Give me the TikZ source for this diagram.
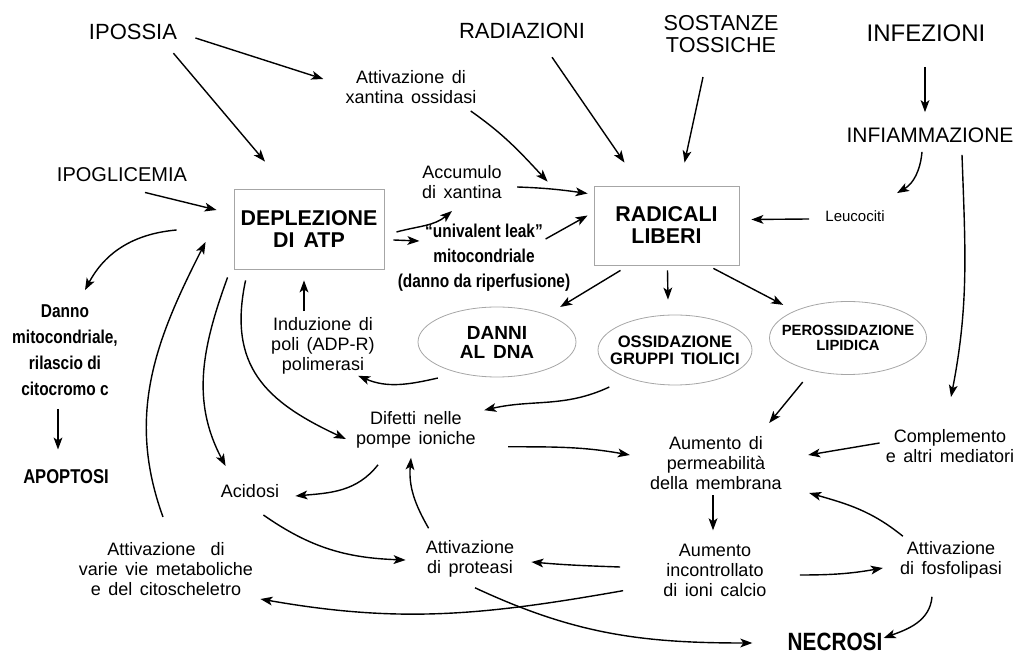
\documentclass[tikz,border=0pt]{standalone}
\usepackage{fontspec}
\setmainfont{Liberation Sans}[WordSpace=1.5]
\newfontfamily\narrowfont{Liberation Sans}[FakeStretch=0.83]
\usetikzlibrary{arrows.meta,shapes.geometric}

\begin{document}
\begin{tikzpicture}[x=0.5pt,y=0.5pt,
    >={Stealth[length=6pt,width=4.4pt,inset=1.5pt]},
    cause/.style={inner sep=0pt,align=center,font=\fontsize{11}{12}\selectfont},
    txt/.style={inner sep=0pt,align=center,font=\fontsize{9}{10}\selectfont},
    nbold/.style={inner sep=0pt,align=center,font=\narrowfont\bfseries\fontsize{9.3}{12.5}\selectfont},
    block/.style={draw=gray!70,line width=0.4pt,align=center,font=\bfseries\fontsize{10.7}{11}\selectfont,
      minimum width=74pt,minimum height=40pt},
    lesion/.style={ellipse,draw=gray!70,line width=0.4pt,inner sep=0pt,align=center,
      font=\bfseries\fontsize{9.5}{9.5}\selectfont}]
  \useasboundingbox (0,0) rectangle (1022,-656);
  \draw
    (133,-32) node[cause] (ipossia) {IPOSSIA}
    (522,-31) node[cause] (radiaz) {RADIAZIONI}
    (721,-34) node[cause,font=\fontsize{10.8}{11}\selectfont] (sostanze) {SOSTANZE\\TOSSICHE}
    (926,-33) node[cause,font=\fontsize{12}{13}\selectfont] (infez) {INFEZIONI}
    (930,-135) node[cause,font=\fontsize{10.5}{11}\selectfont] (infiam) {INFIAMMAZIONE}
    (122,-175) node[cause,font=\fontsize{10}{11}\selectfont] (ipoglic) {IPOGLICEMIA}
    (411,-87) node[txt] (xantox) {Attivazione di\\xantina ossidasi}
    (462,-182) node[txt] (accum) {Accumulo\\di xantina}
    (309,-229) node[block] (deplez) {DEPLEZIONE\\DI ATP}
    (666.5,-225.5) node[block,minimum width=72.5pt,minimum height=39.5pt] (radic) {RADICALI\\LIBERI}
    (855,-216) node[txt,font=\fontsize{7.5}{8}\selectfont] (leuc) {Leucociti}
    (484,-258) node[nbold] (leak) {“univalent leak”\\mitocondriale\\(danno da riperfusione)}
    (497,-342) node[lesion,minimum width=79pt,minimum height=35pt] (danni) {DANNI\\AL DNA}
    (675,-350) node[lesion,inner xsep=-5.8pt,minimum width=77pt,minimum height=35pt,
      font=\bfseries\fontsize{8.3}{8.7}\selectfont] (ossid) {OSSIDAZIONE\\GRUPPI TIOLICI}
    (848,-338) node[lesion,inner xsep=-6.1pt,minimum width=78.5pt,minimum height=36.5pt,
      font=\bfseries\fontsize{7.4}{7.7}\selectfont] (perox) {PEROSSIDAZIONE\\LIPIDICA}
    (65,-350) node[nbold,font=\narrowfont\bfseries\fontsize{9.3}{13}\selectfont] (dannomito) {Danno\\mitocondriale,\\rilascio di\\citocromo c}
    (66,-477) node[nbold,font=\narrowfont\bfseries\fontsize{10}{11}\selectfont] (apopt) {APOPTOSI}
    (323,-346) node[txt] (induz) {Induzione di\\poli (ADP-R)\\polimerasi}
    (416,-430) node[txt] (difetti) {Difetti nelle\\pompe ioniche}
    (250,-491) node[txt] (acidosi) {Acidosi}
    (166,-569) node[txt] (variev) {Attivazione \ di\\varie vie metaboliche\\e del citoscheletro}
    (470,-559) node[txt] (proteasi) {Attivazione\\di proteasi}
    (716,-463) node[txt] (permeab) {Aumento di\\permeabilità\\della membrana}
    (950,-446) node[txt] (complem) {Complemento\\e altri mediatori}
    (715,-570) node[txt] (calcio) {Aumento\\incontrollato\\di ioni calcio}
    (951,-560) node[txt] (fosfol) {Attivazione\\di fosfolipasi}
    (835,-642) node[nbold,font=\narrowfont\bfseries\fontsize{12.5}{13}\selectfont] (necrosi) {NECROSI};
  \begin{scope}[->,line width=0.7pt]
    \draw ([shift={(18,-6)}]ipossia.east) to ([shift={(-22,8)}]xantox.west);
    \draw ([shift={(-4,-13)}]ipossia.south east) to ([shift={(-44,27)}]deplez.north);
    \draw ([shift={(23,-10)}]ipoglic.south) to ([shift={(-17,19)}]deplez.west);
    \draw ([shift={(-6,-7)}]xantox.south east) to[out=-35,in=133] ([shift={(-46,4)}]radic.north west);
    \draw ([shift={(30,-18)}]radiaz.south) to ([shift={(-42,23)}]radic.north);
    \draw ([shift={(-18,-24)}]sostanze.south) to ([shift={(18,23)}]radic.north);
    \draw ([shift={(-1,-25)}]infez.south) to ([shift={(-5,15)}]infiam.north);
    \draw ([shift={(15,-5)}]accum.east) to[out=-2,in=172] ([shift={(-6,32)}]radic.west);
    \draw ([shift={(12,-3)}]deplez.east) to[out=15,in=220] ([shift={(-10,-12)}]accum.south);
    \draw ([shift={(9,-11)}]deplez.east) to ([shift={(22,17)}]leak.west);
    \draw ([shift={(-25,19)}]leak.east) to ([shift={(-6,10)}]radic.west);
    \draw ([shift={(-16,-3)}]leuc.west) to ([shift={(12,6)}]radic.east);
    \draw ([shift={(-8,-9)}]infiam.south) to[out=-95,in=30] ([shift={(12,17)}]leuc.north east);
    \draw ([shift={(32,-12)}]infiam.south) to[out=-88,in=79] ([shift={(1,32)}]complem.north);
    \draw ([shift={(-46,-5)}]radic.south) to ([shift={(7,10)}]danni.north east);
    \draw ([shift={(1,-5)}]radic.south) to ([shift={(-7,15)}]ossid.north);
    \draw ([shift={(-26,-3)}]radic.south east) to ([shift={(-9,7)}]perox.north west);
    \draw ([shift={(-57,-1)}]deplez.west) to[out=185,in=62] ([shift={(20,14)}]dannomito.north);
    \draw ([shift={(-7,-13)}]dannomito.south) to ([shift={(-8,20)}]apopt.north);
    \draw ([shift={(-19,6)}]induz.north) to ([shift={(-5,-11)}]deplez.south);
    \draw ([shift={(-3,-11)}]danni.south west) to[out=193,in=-23] ([shift={(-17,-1)}]induz.south east);
    \draw ([shift={(-11,-12)}]ossid.south west) to[out=205,in=13] ([shift={(8,1)}]difetti.north east);
    \draw ([shift={(10.5,-18)}]perox.south west) to ([shift={(-13,13)}]permeab.north east);
    \draw ([shift={(-6,3)}]complem.west) to ([shift={(26,8)}]permeab.east);
    \draw ([shift={(3,5)}]fosfol.north west) to[out=141,in=-16] ([shift={(27,-3)}]permeab.south east);
    \draw ([shift={(-3,-5)}]permeab.south) to ([shift={(-2,13)}]calcio.north);
    \draw ([shift={(33,-5)}]calcio.east) to[out=0,in=190] ([shift={(-17,-8)}]fosfol.west);
    \draw ([shift={(-19,-18)}]fosfol.south) to[out=-95,in=20] ([shift={(1,4)}]necrosi.east);
    \draw ([shift={(-43,3)}]calcio.west) to[out=178,in=-5] ([shift={(17,-3)}]proteasi.east);
    \draw ([shift={(-40,6)}]calcio.south west) to[out=190,in=-10] ([shift={(7,-3)}]variev.south east);
    \draw ([shift={(5,-10)}]proteasi.south) to[out=-25,in=180] ([shift={(-35,-1)}]necrosi.west);
    \draw ([shift={(3,12)}]proteasi.north west) to[out=120,in=-95] ([shift={(-5,-9)}]difetti.south);
    \draw ([shift={(32,2)}]difetti.south east) to[out=0,in=170] ([shift={(-20,8)}]permeab.west);
    \draw ([shift={(-38,-16)}]difetti.south) to[out=232,in=5] ([shift={(16,-5)}]acidosi.east);
    \draw ([shift={(-16,-17)}]acidosi.south east) to[out=-35,in=178] ([shift={(-20,-1)}]proteasi.west);
    \draw ([shift={(12,-11)}]deplez.south west) to[out=-102,in=155,looseness=1.2] ([shift={(-10,-9)}]difetti.west);
    \draw ([shift={(-6,-8)}]deplez.south west) to[out=-110,in=118] ([shift={(5,18)}]acidosi.north west);
    \draw ([shift={(-3,25)}]variev.north) to[out=110,in=-117] ([shift={(-28,-13)}]deplez.west);
  \end{scope}
\end{tikzpicture}
\end{document}
